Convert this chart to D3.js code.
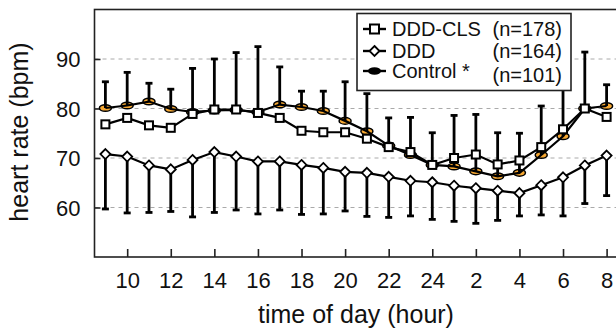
<!DOCTYPE html>
<html>
<head>
<meta charset="utf-8">
<script src="https://cdn.jsdelivr.net/npm/d3@7"></script>
<style>
  body { margin: 0; background: #fff; }
  svg { display: block; font-family: "Liberation Sans", Arial, sans-serif; }
</style>
</head>
<body>
<svg id="graph" width="616" height="330"></svg>
<script>
// hourly means, 9:00 through 8:00 next morning (hour > 24 means next day)
const hours = [9, 10, 11, 12, 13, 14, 15, 16, 17, 18, 19, 20, 21, 22, 23, 24, 25, 26, 27, 28, 29, 30, 31, 32];
const dddCls = [76.8, 78.1, 76.6, 76.1, 78.9, 79.8, 79.8, 79.1, 78.1, 75.5, 75.2, 75.2, 73.9, 72.2, 71.2, 68.6, 70.0, 70.7, 68.7, 69.5, 72.2, 75.8, 80.0, 78.3];
const ddd = [70.8, 70.3, 68.5, 67.7, 69.6, 71.2, 70.3, 69.3, 69.3, 68.6, 68.0, 67.2, 67.0, 66.2, 65.4, 65.1, 64.4, 63.9, 63.4, 62.9, 64.5, 66.1, 68.5, 70.5];
const control = [80.1, 80.6, 81.4, 79.9, 79.3, 79.6, 79.7, 79.3, 80.8, 80.3, 79.5, 77.5, 75.4, 72.5, 70.6, 68.6, 68.3, 67.3, 66.3, 67.0, 70.6, 74.4, 80.0, 80.5];
// error bar ends (upper one drawn from control, lower one from DDD)
const upperEnd = [85.4, 87.3, 85.1, 83.9, 88.1, 90.0, 91.3, 92.5, 88.4, 83.5, 83.5, 85.4, 83.0, 78.1, 78.2, 75.1, 78.6, 78.8, 75.1, 75.0, 80.5, 86.0, 91.4, 84.8];
const lowerEnd = [59.7, 58.9, 59.0, 59.2, 58.1, 59.0, 59.5, 58.7, 59.5, 58.6, 58.7, 59.3, 58.2, 58.0, 58.3, 57.6, 57.2, 56.8, 57.4, 58.3, 58.5, 58.3, 60.8, 62.4];

const xTicks = [10, 12, 14, 16, 18, 20, 22, 24, 26, 28, 30, 32];
const yTicks = [60, 70, 80, 90];
const legendNames = ['DDD-CLS', 'DDD', 'Control *'];
const legendCounts = ['(n=178)', '(n=164)', '(n=101)'];

const orange = '#f7a832';
const svg = d3.select('#graph');

const x = d3.scaleLinear().domain([8.5, 32.5]).range([94.5, 617.5]);
const y = d3.scaleLinear().domain([50, 100]).range([257, 9.5]);

// dashed grid
svg.append('g')
  .selectAll('line')
  .data(yTicks)
  .join('line')
  .attr('x1', x.range()[0]).attr('x2', x.range()[1])
  .attr('y1', d => y(d)).attr('y2', d => y(d))
  .attr('stroke', '#aaa')
  .attr('stroke-width', 1)
  .attr('stroke-dasharray', '4,4');

// axes (ticks inward)
const yAxis = svg.append('g')
  .attr('transform', `translate(${x.range()[0]},0)`)
  .call(d3.axisLeft(y).tickValues(yTicks).tickSize(-6).tickPadding(14));
const xAxis = svg.append('g')
  .attr('transform', `translate(0,${y.range()[0]})`)
  .call(d3.axisBottom(x).tickValues(xTicks).tickSize(-8).tickPadding(15)
    .tickFormat(d => d > 24 ? d - 24 : d));
[yAxis, xAxis].forEach(g => {
  g.select('.domain').remove();
  g.selectAll('.tick line').attr('stroke', '#222').attr('stroke-width', 1.6);
  g.selectAll('.tick text').attr('font-size', 22).attr('fill', '#111')
    .attr('font-family', '"Liberation Sans", Arial, sans-serif');
});
yAxis.selectAll('.tick text').attr('dy', '0.36em');

// frame
svg.append('rect')
  .attr('x', x.range()[0]).attr('y', y.range()[1])
  .attr('width', x.range()[1] - x.range()[0])
  .attr('height', y.range()[0] - y.range()[1])
  .attr('fill', 'none')
  .attr('stroke', '#222')
  .attr('stroke-width', 1.6);

const line = vals => d3.line()
  .x((d, i) => x(hours[i]))
  .y(d => y(d))(vals);

// control: markers first, line and bars on top of them
svg.append('g')
  .selectAll('ellipse')
  .data(control)
  .join('ellipse')
  .attr('cx', (d, i) => x(hours[i])).attr('cy', d => y(d))
  .attr('rx', 6).attr('ry', 3.3)
  .attr('fill', orange).attr('stroke', '#000').attr('stroke-width', 1.5);

svg.append('path')
  .attr('d', line(control))
  .attr('fill', 'none').attr('stroke', '#000').attr('stroke-width', 2.2);

function errorBars(from, to) {
  const g = svg.append('g').attr('stroke', '#000');
  g.selectAll('line.bar')
    .data(to)
    .join('line')
    .attr('class', 'bar')
    .attr('x1', (d, i) => x(hours[i])).attr('x2', (d, i) => x(hours[i]))
    .attr('y1', (d, i) => y(from[i])).attr('y2', d => y(d))
    .attr('stroke-width', 2.8);
  g.selectAll('line.cap')
    .data(to)
    .join('line')
    .attr('class', 'cap')
    .attr('x1', (d, i) => x(hours[i]) - 3.5).attr('x2', (d, i) => x(hours[i]) + 3.5)
    .attr('y1', d => y(d)).attr('y2', d => y(d))
    .attr('stroke-width', 2.8);
}
errorBars(control, upperEnd);
errorBars(ddd, lowerEnd);

// DDD-CLS
svg.append('path')
  .attr('d', line(dddCls))
  .attr('fill', 'none').attr('stroke', '#000').attr('stroke-width', 2.2);
svg.append('g')
  .selectAll('rect')
  .data(dddCls)
  .join('rect')
  .attr('x', (d, i) => x(hours[i]) - 4).attr('y', d => y(d) - 4)
  .attr('width', 8).attr('height', 8)
  .attr('fill', '#fff').attr('stroke', '#000').attr('stroke-width', 2);

// DDD
const diamond = 'M0,-5L5,0L0,5L-5,0Z';
svg.append('path')
  .attr('d', line(ddd))
  .attr('fill', 'none').attr('stroke', '#000').attr('stroke-width', 2.2);
svg.append('g')
  .selectAll('path')
  .data(ddd)
  .join('path')
  .attr('d', diamond)
  .attr('transform', (d, i) => `translate(${x(hours[i])},${y(d)})`)
  .attr('fill', '#fff').attr('stroke', '#000').attr('stroke-width', 1.8);

// legend
const legend = svg.append('g');
legend.append('rect')
  .attr('x', 357).attr('y', 13.5).attr('width', 214).attr('height', 77)
  .attr('fill', '#fff').attr('stroke', '#222').attr('stroke-width', 1.6);
const rowY = [29, 51, 71];
legendNames.forEach((name, i) => {
  const ry = rowY[i];
  legend.append('line')
    .attr('x1', 363).attr('x2', 386).attr('y1', ry).attr('y2', ry)
    .attr('stroke', '#000').attr('stroke-width', 2.4);
  if (i === 0) {
    legend.append('rect')
      .attr('x', 370).attr('y', ry - 4.5).attr('width', 9).attr('height', 9)
      .attr('fill', '#fff').attr('stroke', '#000').attr('stroke-width', 2);
  } else if (i === 1) {
    legend.append('path')
      .attr('d', diamond)
      .attr('transform', `translate(374.5,${ry})`)
      .attr('fill', '#fff').attr('stroke', '#000').attr('stroke-width', 1.8);
  } else {
    legend.append('ellipse')
      .attr('cx', 374.5).attr('cy', ry).attr('rx', 6.5).attr('ry', 3.8)
      .attr('fill', '#000');
  }
  legend.append('text')
    .attr('x', 392).attr('y', ry).attr('dy', '0.36em')
    .attr('font-size', 20).attr('fill', '#111')
    .text(name);
  legend.append('text')
    .attr('x', 562).attr('y', ry + (i === 2 ? 4 : 0)).attr('dy', '0.36em')
    .attr('text-anchor', 'end')
    .attr('font-size', 20).attr('fill', '#111')
    .text(legendCounts[i]);
});

// axis titles
svg.append('text')
  .attr('x', 356).attr('y', 323)
  .attr('text-anchor', 'middle')
  .attr('font-size', 25).attr('fill', '#111')
  .text('time of day (hour)');
svg.append('text')
  .attr('transform', 'translate(28,132) rotate(-90)')
  .attr('text-anchor', 'middle')
  .attr('font-size', 25).attr('fill', '#111')
  .text('heart rate (bpm)');
</script>
</body>
</html>
